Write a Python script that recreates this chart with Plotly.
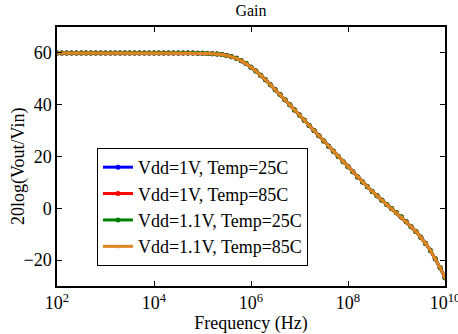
import plotly.graph_objects as go

# Frequency points (Hz): 10 per decade from 1e2 to 1e10 (exponents listed)
log_freq = [2.0, 2.1, 2.2, 2.3, 2.4, 2.5, 2.6, 2.7, 2.8, 2.9,
            3.0, 3.1, 3.2, 3.3, 3.4, 3.5, 3.6, 3.7, 3.8, 3.9,
            4.0, 4.1, 4.2, 4.3, 4.4, 4.5, 4.6, 4.7, 4.8, 4.9,
            5.0, 5.1, 5.2, 5.3, 5.4, 5.5, 5.6, 5.7, 5.8, 5.9,
            6.0, 6.1, 6.2, 6.3, 6.4, 6.5, 6.6, 6.7, 6.8, 6.9,
            7.0, 7.1, 7.2, 7.3, 7.4, 7.5, 7.6, 7.7, 7.8, 7.9,
            8.0, 8.1, 8.2, 8.3, 8.4, 8.5, 8.6, 8.7, 8.8, 8.9,
            9.0, 9.1, 9.2, 9.3, 9.4, 9.5, 9.6, 9.7, 9.8, 9.9, 10.0]
freq_hz = [10 ** e for e in log_freq]

# Gain in dB (all four corners overlap visually)
gain_db = [60.0, 60.0, 60.0, 60.0, 60.0, 60.0, 60.0, 60.0, 60.0, 60.0,
           60.0, 60.0, 60.0, 60.0, 60.0, 60.0, 60.0, 60.0, 60.0, 60.0,
           60.0, 60.0, 60.0, 60.0, 60.0, 60.0, 60.0, 60.0, 60.0, 59.9,
           59.9, 59.8, 59.7, 59.6, 59.4, 59.0, 58.5, 57.9, 57.0, 55.9,
           54.5, 53.0, 51.4, 49.6, 47.7, 45.8, 43.9, 41.9, 40.0, 38.0,
           36.0, 34.0, 32.0, 30.0, 28.0, 26.0, 24.0, 22.0, 20.0, 18.0,
           16.0, 14.1, 12.1, 10.2, 8.3, 6.5, 4.8, 3.1, 1.5, -0.1,
           -1.7, -3.4, -5.2, -7.1, -9.0, -11.2, -13.6, -16.3, -19.5, -23.0, -26.8]

series_names = ["Vdd=1V, Temp=25C", "Vdd=1V, Temp=85C",
                "Vdd=1.1V, Temp=25C", "Vdd=1.1V, Temp=85C"]
series_gains = [gain_db, gain_db, gain_db, gain_db]
series_colors = ["#0000FF", "#FF0000", "#008000", "#DE8424"]
series_symbols = ["circle", "circle", "circle", "triangle-down"]

x_tickvals = [1e2, 1e4, 1e6, 1e8, 1e10]
x_ticktext = ["10<sup>2</sup>", "10<sup>4</sup>", "10<sup>6</sup>",
              "10<sup>8</sup>", "10<sup>10</sup>"]
y_tickvals = [-20, 0, 20, 40, 60]

FONT = "Times New Roman, Liberation Serif, DejaVu Serif, serif"

fig = go.Figure()
for name, g, c, s in zip(series_names, series_gains, series_colors, series_symbols):
    fig.add_trace(go.Scatter(
        x=freq_hz, y=g, name=name, mode="lines+markers",
        line=dict(color=c, width=3),
        marker=dict(color=c, symbol=s, size=5, line=dict(width=0)),
    ))

axis_common = dict(
    showline=True, linecolor="black", linewidth=1.5, mirror="ticks",
    ticks="inside", ticklen=5, tickcolor="black", tickwidth=1,
    showgrid=False, zeroline=False, automargin=False,
    tickfont=dict(family=FONT, size=18, color="black"),
)

fig.update_xaxes(type="log", range=[2, 10], tickvals=x_tickvals, ticktext=x_ticktext,
                 ticklabeloverflow="allow",
                 title=dict(text="Frequency (Hz)", font=dict(family=FONT, size=18, color="black"),
                            standoff=0),
                 **axis_common)
fig.update_yaxes(range=[-30, 70], tickvals=y_tickvals, **axis_common)

fig.add_annotation(
    text="20log(Vout/Vin)", textangle=-90, showarrow=False,
    xref="paper", yref="paper", x=-0.1005, y=0.463,
    xanchor="center", yanchor="middle",
    font=dict(family=FONT, size=18, color="black"),
)

fig.update_layout(
    width=458, height=334,
    margin=dict(l=57, r=13, t=27, b=48),
    paper_bgcolor="white", plot_bgcolor="white",
    font=dict(family=FONT, size=17, color="black"),
    title=dict(text="Gain", x=0.5, xref="paper", y=0.985, yanchor="top",
               font=dict(family=FONT, size=16, color="black")),
    showlegend=True,
    legend=dict(x=0.103, y=0.533, xanchor="left", yanchor="top",
                bgcolor="white", bordercolor="black", borderwidth=1,
                font=dict(family=FONT, size=18, color="black"),
                itemwidth=30, tracegroupgap=0),
)

fig.write_html("out.html")
